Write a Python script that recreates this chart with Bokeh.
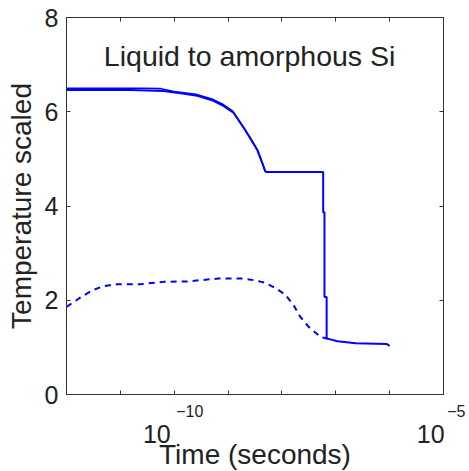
from bokeh.plotting import figure
from bokeh.models import LogAxis, LinearAxis, FixedTicker, Label, Range1d
from bokeh.embed import file_html
from bokeh.resources import INLINE

# ---- data (x given as log10 of time in seconds) ----
solid_logt = [-12.0, -10.8, -10.2, -9.88, -9.57, -9.27, -9.08, -8.90, -8.71,
              -8.58, -8.45, -8.36, -8.31, -8.29, -7.234, -7.234, -7.21, -7.21,
              -7.17, -7.17, -7.10, -6.97, -6.63, -6.05, -6.00]
solid_temp = [6.46, 6.46, 6.44, 6.39, 6.34, 6.23, 6.12, 5.98, 5.66,
              5.42, 5.17, 4.90, 4.74, 4.72, 4.72, 3.87, 3.87, 2.07,
              2.07, 1.19, 1.17, 1.13, 1.09, 1.07, 1.03]

solid2_logt = [-12.0, -10.6, -10.25, -10.0, -9.6, -9.3, -9.1, -8.92, -8.73,
               -8.59, -8.46, -8.37, -8.31]
solid2_temp = [6.50, 6.50, 6.49, 6.43, 6.37, 6.27, 6.16, 6.02, 5.70,
               5.45, 5.20, 4.93, 4.73]

dashed_logt = [-12.0, -11.74, -11.52, -11.31, -11.06, -10.63, -10.20, -9.76,
               -9.18, -8.71, -8.49, -8.31, -8.12, -7.93, -7.78, -7.66, -7.50,
               -7.28, -7.16]
dashed_temp = [1.86, 2.06, 2.21, 2.30, 2.34, 2.34, 2.39, 2.40,
               2.46, 2.46, 2.42, 2.37, 2.26, 2.11, 1.89, 1.65, 1.43,
               1.22, 1.19]

x_tick_exps = [-12, -11, -10, -9, -8, -7, -6, -5]
x_label_exps = [-10, -5]
y_ticks = [0, 2, 4, 6, 8]
title_text = "Liquid to amorphous Si"
x_title = "Time (seconds)"
y_title = "Temperature scaled"

FONT = "Liberation Sans"
BLUE = "#0000ff"
AXC = "#333333"
TXT = "#222222"
NB = "\u00a0"

p = figure(width=465, height=469, x_axis_type="log",
           x_range=Range1d(1e-12, 1e-5), y_range=Range1d(0, 8),
           output_backend="svg", toolbar_location=None,
           min_border_left=66, min_border_top=17, min_border_right=22,
           min_border_bottom=75, frame_width=377, frame_height=377)
p.grid.visible = False
p.outline_line_color = AXC
p.background_fill_color = "white"
p.border_fill_color = "white"

def xs(lst):
    return [10.0 ** v for v in lst]

p.line(xs(dashed_logt), dashed_temp, line_color=BLUE, line_width=2,
       line_dash="6 5")
p.line(xs(solid2_logt), solid2_temp, line_color=BLUE, line_width=1.6)
p.line(xs(solid_logt), solid_temp, line_color=BLUE, line_width=2)

x_ticks = [10.0 ** e for e in x_tick_exps]

# bottom axis 1 (next to the frame): ticks + superscript exponents
exp_pad = {-10: 7, -5: 8}
base_pad = {-10: 5, -5: 3}
xa = p.xaxis[0]
xa.ticker = FixedTicker(ticks=x_ticks)
xa.major_label_overrides = {
    10.0 ** e: (NB * exp_pad[e] + "\u2212" + str(abs(e)) if e in x_label_exps else NB)
    for e in x_tick_exps}
xa.major_label_text_font = FONT
xa.major_label_text_font_size = "16px"
xa.major_label_text_color = TXT
xa.major_label_standoff = 8

# bottom axis 2: the "10" bases and the axis title
xb = LogAxis(ticker=FixedTicker(ticks=x_ticks))
xb.major_label_overrides = {
    10.0 ** e: ("10" + NB * base_pad[e] if e in x_label_exps else NB)
    for e in x_tick_exps}
xb.major_label_text_font = FONT
xb.major_label_text_font_size = "25px"
xb.major_label_text_color = TXT
xb.major_label_standoff = -9
xb.axis_line_color = None
xb.major_tick_line_color = None
xb.minor_tick_line_color = None
xb.axis_label = x_title
xb.axis_label_text_font = FONT
xb.axis_label_text_font_size = "28px"
xb.axis_label_text_font_style = "normal"
xb.axis_label_text_color = TXT
xb.axis_label_standoff = -12
p.add_layout(xb, "below")

ya = p.yaxis[0]
ya.ticker = FixedTicker(ticks=y_ticks)
ya.major_label_text_font = FONT
ya.major_label_text_font_size = "25px"
ya.major_label_text_color = TXT
ya.major_label_standoff = 8
ya.axis_label = y_title
ya.axis_label_text_font = FONT
ya.axis_label_text_font_size = "28px"
ya.axis_label_text_font_style = "normal"
ya.axis_label_text_color = TXT
ya.axis_label_standoff = 5

top = LogAxis(ticker=FixedTicker(ticks=x_ticks),
              major_label_text_font_size="1px", major_label_text_color=None,
              major_label_standoff=0)
right = LinearAxis(ticker=FixedTicker(ticks=y_ticks),
                   major_label_text_font_size="1px",
                   major_label_text_color=None, major_label_standoff=0)
p.add_layout(top, "above")
p.add_layout(right, "right")

for ax in [xa, ya, top, right]:
    ax.axis_line_color = AXC
    ax.major_tick_line_color = AXC
    ax.major_tick_in = 4
    ax.major_tick_out = 0
    ax.minor_tick_line_color = None

p.add_layout(Label(x=10.0 ** -8.60, y=7.19, text=title_text, text_font=FONT,
                   text_font_size="28.5px", text_color=TXT, text_align="center",
                   text_baseline="alphabetic"))

open("out.html", "w").write(file_html(p, INLINE))
